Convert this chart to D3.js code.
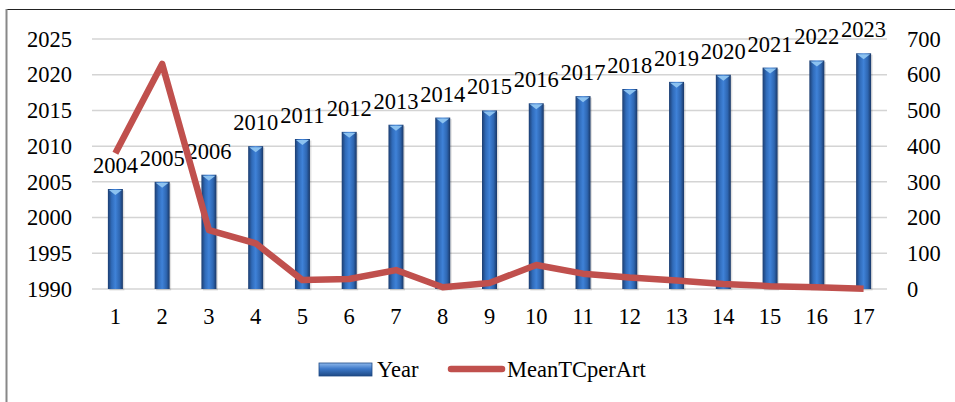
<!DOCTYPE html>
<html>
<head>
<meta charset="utf-8">
<script src="https://cdn.jsdelivr.net/npm/d3@7"></script>
<style>
  html, body { margin: 0; padding: 0; background: #fff; }
  svg text { font-family: "Times New Roman", "Liberation Serif", serif; fill: #000; }
</style>
</head>
<body>
<svg id="chart" width="955" height="402"></svg>
<script>
// data
const categories = ['1','2','3','4','5','6','7','8','9','10','11','12','13','14','15','16','17'];
const years = [2004, 2005, 2006, 2010, 2011, 2012, 2013, 2014, 2015, 2016, 2017, 2018, 2019, 2020, 2021, 2022, 2023];
const meanTC = [380, 630, 165, 128, 25, 28, 53, 5, 17, 67, 43, 32, 24, 14, 8, 5, 1];
const leftTicks = [1990, 1995, 2000, 2005, 2010, 2015, 2020, 2025];
const rightTicks = [0, 100, 200, 300, 400, 500, 600, 700];

const svg = d3.select('#chart');
const plot = { left: 92, right: 887, top: 39, bottom: 289 };

const x = d3.scaleBand().domain(categories).range([plot.left, plot.right]);
const yL = d3.scaleLinear().domain([1990, 2025]).range([plot.bottom, plot.top]);
const yR = d3.scaleLinear().domain([0, 700]).range([plot.bottom, plot.top]);

const serif = '"Times New Roman", "Liberation Serif", serif';
const fontSize = '22.5px';

// gradients for the bevelled bars
const defs = svg.append('defs');
const grad = defs.append('linearGradient').attr('id', 'barGrad')
  .attr('x1', '0%').attr('x2', '100%').attr('y1', '0%').attr('y2', '0%');
grad.append('stop').attr('offset', '0%').attr('stop-color', '#1c3d70');
grad.append('stop').attr('offset', '25%').attr('stop-color', '#306bb9');
grad.append('stop').attr('offset', '50%').attr('stop-color', '#3f82d8');
grad.append('stop').attr('offset', '78%').attr('stop-color', '#2e66b1');
grad.append('stop').attr('offset', '100%').attr('stop-color', '#193766');

const legGrad = defs.append('linearGradient').attr('id', 'legGrad')
  .attr('x1', '0%').attr('x2', '0%').attr('y1', '0%').attr('y2', '100%');
legGrad.append('stop').attr('offset', '0%').attr('stop-color', '#8fb9ec');
legGrad.append('stop').attr('offset', '45%').attr('stop-color', '#3d78c8');
legGrad.append('stop').attr('offset', '100%').attr('stop-color', '#1f4a85');

// frame
svg.append('line').attr('x1', 6).attr('x2', 955).attr('y1', 9.5).attr('y2', 9.5)
  .attr('stroke', '#222').attr('stroke-width', 1.2);
svg.append('line').attr('x1', 6.5).attr('x2', 6.5).attr('y1', 9).attr('y2', 402)
  .attr('stroke', '#888').attr('stroke-width', 2);

// gridlines
svg.append('g').selectAll('line').data(leftTicks).join('line')
  .attr('x1', plot.left).attr('x2', plot.right)
  .attr('y1', d => yL(d)).attr('y2', d => yL(d))
  .attr('stroke', '#d4d4d4').attr('stroke-width', 1.5);

// axes
const leftAxis = svg.append('g').attr('transform', `translate(${plot.left},0)`)
  .call(d3.axisLeft(yL).tickValues(leftTicks).tickFormat(d3.format('d')).tickSize(0).tickPadding(20));
const rightAxis = svg.append('g').attr('transform', `translate(${plot.right},0)`)
  .call(d3.axisRight(yR).tickValues(rightTicks).tickSize(0).tickPadding(20));
const bottomAxis = svg.append('g').attr('transform', `translate(0,${plot.bottom})`)
  .call(d3.axisBottom(x).tickSize(0).tickPadding(19));
[leftAxis, rightAxis, bottomAxis].forEach(g => {
  g.attr('font-family', serif).attr('font-size', fontSize);
  g.select('.domain').remove();
  g.selectAll('text').attr('fill', '#000');
});

// bars
const barW = 15;
const bars = svg.append('g').selectAll('g').data(categories).join('g');
bars.append('rect')
  .attr('x', d => x(d) + x.bandwidth() / 2 - barW / 2 + 1.5)
  .attr('y', (d, i) => yL(years[i]) + 1.5)
  .attr('width', barW)
  .attr('height', (d, i) => plot.bottom - yL(years[i]))
  .attr('fill', '#000').attr('opacity', 0.12);
bars.append('rect')
  .attr('x', d => x(d) + x.bandwidth() / 2 - barW / 2)
  .attr('y', (d, i) => yL(years[i]))
  .attr('width', barW)
  .attr('height', (d, i) => plot.bottom - yL(years[i]))
  .attr('fill', 'url(#barGrad)');
// bevel triangle at the top
bars.append('path')
  .attr('d', (d, i) => {
    const cx = x(d) + x.bandwidth() / 2, top = yL(years[i]);
    return `M${cx - barW / 2 + 1},${top + 1} L${cx + barW / 2 - 1},${top + 1} L${cx},${top + 6} Z`;
  })
  .attr('fill', '#8cc2f0');

// data labels
svg.append('g').attr('font-family', serif).attr('font-size', fontSize)
  .selectAll('text').data(categories).join('text')
  .attr('x', d => x(d) + x.bandwidth() / 2)
  .attr('y', (d, i) => yL(years[i]) - 16)
  .attr('text-anchor', 'middle')
  .text((d, i) => years[i]);

// MeanTCperArt line
const line = d3.line()
  .x(d => x(d.c) + x.bandwidth() / 2)
  .y(d => yR(d.v));
svg.append('path')
  .datum(categories.map((c, i) => ({ c, v: meanTC[i] })))
  .attr('d', line)
  .attr('fill', 'none')
  .attr('stroke', '#c0504d')
  .attr('stroke-width', 6.5)
  .attr('stroke-linejoin', 'round');

// legend
const leg = svg.append('g').attr('font-family', serif).attr('font-size', fontSize);
leg.append('rect').attr('x', 319).attr('y', 363).attr('width', 53).attr('height', 13)
  .attr('fill', 'url(#legGrad)').attr('stroke', '#1f4a85').attr('stroke-width', 0.8);
leg.append('text').attr('x', 377).attr('y', 377).text('Year');
leg.append('line').attr('x1', 451).attr('x2', 502).attr('y1', 369).attr('y2', 369)
  .attr('stroke', '#c0504d').attr('stroke-width', 6.5).attr('stroke-linecap', 'round');
leg.append('text').attr('x', 507).attr('y', 377).text('MeanTCperArt');
</script>
</body>
</html>
